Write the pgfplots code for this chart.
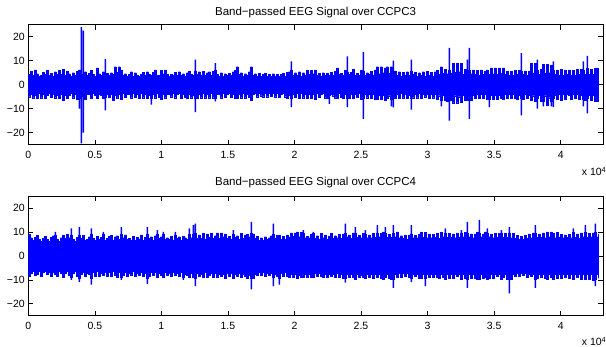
\documentclass[border=0pt]{standalone}
\usepackage{fontspec}
\setmainfont{Liberation Sans}
\usepackage{pgfplots}
\usepackage{pgfplotstable}
\pgfplotsset{compat=1.18}
\definecolor{mblue}{rgb}{0,0,1}

% envelope of the band-passed signal: upper (u) and lower (l) extremes, one row per 2 px column (~150 samples)
\pgfplotstableread[row sep=\\]{
u l\\
4.2 -5.0\\ 5.6 -3.8\\ 3.8 -5.4\\ 6.2 -4.2\\ 4.6 -5.6\\ 3.6 -3.6\\ 4.0 -5.4\\ 5.2 -4.0\\ 4.4 -5.8\\ 6.0 -4.4\\
3.8 -3.6\\ 4.8 -5.2\\ 3.6 -3.8\\ 5.4 -5.4\\ 4.2 -4.2\\ 6.0 -5.8\\ 4.4 -4.0\\ 6.5 -6.5\\ 4.0 -4.4\\ 5.8 -5.8\\
4.6 -4.2\\ 3.6 -3.6\\ 5.0 -5.4\\ 3.8 -3.8\\ 5.6 -6.0\\ 6.2 -5.4\\ 4.4 -4.6\\ 4.0 -4.2\\ 5.4 -6.2\\ 3.8 -3.8\\
4.8 -4.0\\ 6.0 -5.6\\ 4.2 -3.6\\ 3.6 -4.2\\ 7.0 -5.6\\ 4.6 -3.8\\ 3.8 -4.4\\ 5.4 -5.8\\ 4.2 -5.0\\ 4.8 -3.8\\
3.8 -5.2\\ 5.0 -3.8\\ 4.2 -6.5\\ 7.5 -4.2\\ 5.2 -5.4\\ 7.5 -3.8\\ 6.2 -6.0\\ 4.0 -3.6\\ 4.6 -5.2\\ 3.6 -4.0\\
4.2 -3.8\\ 5.4 -5.4\\ 3.6 -3.6\\ 5.0 -5.2\\ 4.0 -4.0\\ 3.6 -5.6\\ 4.4 -3.6\\ 5.2 -5.4\\ 3.8 -3.8\\ 5.4 -5.6\\
4.4 -4.4\\ 3.8 -5.4\\ 5.2 -3.8\\ 6.2 -5.4\\ 4.0 -3.6\\ 3.8 -5.2\\ 6.0 -6.0\\ 4.6 -3.8\\ 6.2 -5.4\\ 4.2 -4.0\\
3.6 -3.8\\ 4.4 -5.0\\ 3.8 -3.6\\ 5.2 -5.4\\ 4.0 -4.0\\ 5.4 -3.6\\ 3.8 -5.6\\ 4.6 -3.8\\ 3.6 -5.2\\ 5.0 -5.6\\
5.6 -4.0\\ 4.2 -5.4\\ 3.8 -4.2\\ 5.8 -5.4\\ 4.2 -5.8\\ 5.4 -3.8\\ 3.8 -5.4\\ 5.6 -3.6\\ 4.0 -5.4\\ 5.0 -4.0\\
5.4 -5.4\\ 3.8 -3.6\\ 5.6 -5.4\\ 6.2 -5.6\\ 4.2 -4.0\\ 3.6 -3.8\\ 5.0 -5.4\\ 3.6 -3.4\\ 4.6 -5.2\\ 4.0 -3.8\\
4.8 -3.6\\ 3.8 -5.2\\ 5.4 -3.8\\ 6.0 -5.6\\ 7.5 -5.8\\ 4.4 -3.8\\ 5.0 -5.4\\ 3.6 -3.6\\ 4.6 -5.4\\ 4.0 -4.0\\
5.4 -5.2\\ 7.5 -6.5\\ 4.0 -4.0\\ 4.6 -3.6\\ 3.6 -5.0\\ 4.8 -3.4\\ 3.4 -4.6\\ 4.2 -5.0\\ 4.8 -3.4\\ 3.6 -5.0\\
4.2 -3.4\\ 3.4 -4.8\\ 4.6 -3.6\\ 3.6 -5.0\\ 4.4 -3.4\\ 3.4 -5.2\\ 4.2 -3.8\\ 4.8 -3.6\\ 3.6 -5.0\\ 5.2 -5.6\\
5.4 -4.2\\ 6.2 -5.4\\ 4.0 -3.8\\ 5.0 -5.2\\ 3.8 -3.6\\ 5.4 -5.6\\ 3.6 -3.6\\ 5.0 -5.4\\ 4.0 -3.8\\ 6.0 -5.6\\
4.4 -4.0\\ 6.0 -5.6\\ 4.6 -3.8\\ 6.2 -6.0\\ 4.0 -3.6\\ 4.8 -5.2\\ 3.6 -4.0\\ 5.0 -3.6\\ 3.8 -5.4\\ 4.8 -5.8\\
3.8 -4.4\\ 5.2 -3.8\\ 4.0 -4.6\\ 5.6 -5.4\\ 7.0 -5.6\\ 4.2 -3.6\\ 4.8 -5.2\\ 3.8 -5.8\\ 6.0 -4.0\\ 5.4 -5.4\\
4.2 -5.8\\ 5.2 -3.8\\ 6.5 -5.6\\ 4.0 -4.0\\ 4.8 -5.2\\ 3.8 -3.6\\ 6.0 -6.0\\ 5.6 -5.4\\ 4.0 -4.0\\ 5.0 -5.4\\
4.2 -3.8\\ 5.6 -5.6\\ 4.0 -4.0\\ 6.2 -6.0\\ 7.5 -6.2\\ 4.6 -4.2\\ 7.5 -6.2\\ 5.0 -4.4\\ 7.0 -6.4\\ 7.5 -5.8\\
4.8 -4.6\\ 7.5 -6.0\\ 5.6 -5.4\\ 5.8 -5.6\\ 4.0 -3.8\\ 5.4 -5.6\\ 3.6 -3.6\\ 5.2 -5.4\\ 3.8 -4.0\\ 5.4 -5.8\\
4.0 -4.2\\ 5.8 -5.6\\ 4.4 -5.4\\ 5.2 -3.8\\ 3.6 -5.4\\ 5.0 -3.6\\ 3.8 -5.6\\ 5.4 -3.8\\ 3.6 -5.0\\ 5.6 -4.0\\
3.8 -5.6\\ 5.2 -3.8\\ 3.6 -5.4\\ 5.4 -3.8\\ 6.0 -6.0\\ 4.4 -4.6\\ 7.5 -6.6\\ 4.8 -4.4\\ 6.4 -6.4\\ 4.6 -6.8\\
6.0 -5.6\\ 4.8 -6.4\\ 9.0 -7.5\\ 5.2 -4.6\\ 9.0 -7.5\\ 5.4 -5.0\\ 9.0 -7.2\\ 4.4 -4.4\\ 6.5 -6.4\\ 5.6 -6.6\\
6.0 -5.4\\ 4.6 -6.4\\ 6.2 -4.2\\ 4.2 -5.8\\ 6.0 -4.0\\ 4.0 -5.8\\ 6.2 -3.8\\ 4.4 -5.6\\ 5.8 -4.0\\ 6.2 -6.2\\
4.2 -6.0\\ 7.0 -4.2\\ 4.6 -6.0\\ 7.0 -4.4\\ 4.4 -6.2\\ 7.0 -4.2\\ 4.8 -5.6\\ 7.0 -6.2\\ 4.2 -4.0\\ 5.6 -5.8\\
3.8 -3.8\\ 5.6 -5.8\\ 3.8 -3.8\\ 6.0 -5.6\\ 4.2 -6.0\\ 6.0 -4.2\\ 5.6 -5.6\\ 4.4 -6.2\\ 5.8 -4.0\\ 4.0 -5.8\\
5.6 -4.2\\ 9.0 -6.5\\ 4.8 -4.6\\ 9.0 -6.8\\ 6.0 -5.6\\ 4.4 -4.4\\ 6.5 -6.8\\ 8.5 -7.0\\ 4.8 -4.6\\ 8.5 -8.5\\
5.0 -5.4\\ 8.0 -7.0\\ 6.0 -5.8\\ 4.2 -4.2\\ 6.2 -6.2\\ 3.8 -4.0\\ 6.4 -6.4\\ 4.0 -4.0\\ 6.0 -6.2\\ 4.2 -4.0\\
6.2 -4.2\\ 4.0 -6.2\\ 6.0 -4.0\\ 3.8 -5.8\\ 6.4 -3.8\\ 4.4 -6.2\\ 6.4 -4.2\\ 6.0 -6.0\\ 4.2 -6.4\\ 6.8 -5.4\\
4.4 -4.4\\ 6.4 -6.4\\ 4.2 -4.2\\ 6.8 -6.8\\ 7.0 -7.0\\ 5.0 -5.0\\
}\topdata

\pgfplotstableread[row sep=\\]{
u l\\
9.0 -8.6\\ 7.6 -7.2\\ 6.4 -6.4\\ 7.8 -8.0\\ 8.6 -7.6\\ 6.8 -6.6\\ 6.0 -8.4\\ 7.4 -7.0\\ 8.2 -6.4\\ 7.0 -7.8\\
6.2 -7.0\\ 7.8 -8.6\\ 8.4 -6.8\\ 8.8 -7.6\\ 7.0 -8.4\\ 6.2 -6.6\\ 7.6 -7.2\\ 8.6 -8.8\\ 7.4 -7.4\\ 9.0 -6.6\\
7.6 -8.0\\ 8.8 -9.0\\ 6.8 -7.2\\ 6.2 -6.4\\ 7.8 -8.4\\ 8.8 -9.2\\ 7.2 -7.6\\ 8.6 -6.8\\ 6.4 -8.6\\ 7.0 -7.2\\
8.0 -7.8\\ 9.0 -9.2\\ 7.4 -7.0\\ 6.4 -8.4\\ 8.2 -6.6\\ 7.0 -8.6\\ 7.8 -7.4\\ 9.0 -8.0\\ 6.6 -6.8\\ 7.2 -8.4\\
8.2 -7.0\\ 8.6 -8.6\\ 6.6 -6.6\\ 8.0 -8.2\\ 8.4 -8.8\\ 7.0 -7.0\\ 9.0 -9.0\\ 7.6 -8.0\\ 8.8 -6.8\\ 6.8 -8.4\\
7.4 -7.2\\ 6.6 -8.2\\ 8.2 -6.6\\ 6.4 -8.6\\ 7.8 -7.4\\ 7.0 -8.0\\ 8.8 -6.8\\ 6.6 -8.6\\ 7.8 -7.2\\ 9.0 -9.2\\
7.2 -8.4\\ 8.0 -7.0\\ 6.6 -8.2\\ 8.4 -6.8\\ 9.2 -8.8\\ 7.2 -7.4\\ 8.0 -8.2\\ 9.0 -8.8\\ 6.8 -6.8\\ 7.6 -8.0\\
6.8 -7.2\\ 8.2 -8.4\\ 6.4 -6.8\\ 8.8 -8.2\\ 7.4 -7.4\\ 8.0 -8.6\\ 6.6 -6.8\\ 8.2 -9.0\\ 7.6 -7.6\\ 7.0 -8.2\\
9.0 -8.8\\ 7.6 -7.2\\ 9.2 -9.0\\ 9.4 -9.2\\ 7.2 -7.4\\ 8.8 -8.6\\ 7.4 -7.6\\ 9.4 -9.0\\ 7.0 -7.0\\ 9.2 -8.8\\
7.8 -8.2\\ 9.4 -7.4\\ 7.2 -9.0\\ 8.4 -7.2\\ 9.6 -8.8\\ 7.4 -7.8\\ 9.6 -8.4\\ 8.0 -7.6\\ 9.2 -9.2\\ 7.2 -7.4\\
8.2 -8.6\\ 7.0 -7.4\\ 9.2 -9.2\\ 7.8 -7.6\\ 8.4 -8.4\\ 6.8 -7.2\\ 9.4 -8.8\\ 7.4 -7.8\\ 8.8 -8.6\\ 9.0 -9.2\\
8.0 -8.2\\ 9.4 -9.2\\ 9.2 -9.4\\ 7.4 -7.6\\ 8.2 -8.2\\ 6.4 -6.8\\ 7.6 -8.0\\ 6.6 -7.0\\ 8.0 -8.4\\ 6.8 -7.2\\
7.6 -8.0\\ 8.4 -7.4\\ 9.0 -9.0\\ 7.2 -7.6\\ 8.6 -8.4\\ 8.8 -9.2\\ 7.0 -7.4\\ 8.2 -8.6\\ 6.8 -7.0\\ 8.8 -8.4\\
7.8 -8.8\\ 9.6 -7.6\\ 8.2 -9.0\\ 9.6 -7.8\\ 10 -9.2\\ 8.0 -8.0\\ 9.8 -9.0\\ 9.4 -8.8\\ 7.6 -7.6\\ 8.2 -9.0\\
7.6 -7.6\\ 9.2 -8.8\\ 9.4 -9.0\\ 7.4 -7.4\\ 8.4 -8.6\\ 7.0 -7.2\\ 9.4 -8.6\\ 7.6 -9.0\\ 8.8 -7.6\\ 7.0 -8.8\\
8.2 -7.8\\ 9.4 -8.6\\ 7.4 -7.6\\ 8.4 -9.0\\ 7.6 -7.4\\ 9.0 -8.8\\ 7.4 -7.8\\ 9.2 -9.4\\ 9.4 -9.2\\ 8.0 -7.8\\
8.8 -9.0\\ 7.4 -7.6\\ 9.6 -8.8\\ 9.4 -9.6\\ 7.8 -7.8\\ 8.8 -9.0\\ 7.6 -8.0\\ 9.4 -8.8\\ 9.0 -9.2\\ 7.6 -7.6\\
8.8 -8.8\\ 7.6 -7.8\\ 9.4 -9.4\\ 7.8 -7.8\\ 9.6 -8.8\\ 8.0 -7.6\\ 9.4 -9.2\\ 10 -9.6\\ 9.4 -9.0\\ 7.8 -7.8\\
9.0 -9.2\\ 7.8 -9.6\\ 9.4 -9.6\\ 8.0 -7.8\\ 10 -8.8\\ 7.6 -7.4\\ 8.4 -8.8\\ 7.2 -7.2\\ 8.6 -8.6\\ 7.0 -7.4\\
8.8 -8.8\\ 9.2 -9.2\\ 7.6 -7.8\\ 8.6 -8.6\\ 7.6 -7.8\\ 9.0 -9.2\\ 10 -9.4\\ 7.8 -7.6\\ 9.8 -9.4\\ 7.6 -7.8\\
9.2 -8.8\\ 7.6 -7.6\\ 9.0 -9.0\\ 7.8 -7.8\\ 9.4 -8.8\\ 7.4 -9.4\\ 9.8 -7.8\\ 8.0 -9.0\\ 9.4 -9.6\\ 7.8 -7.6\\
9.4 -9.2\\ 7.8 -7.8\\ 9.2 -9.4\\ 7.6 -7.6\\ 9.6 -8.6\\ 7.8 -7.8\\ 9.6 -9.6\\ 8.0 -7.8\\ 9.8 -9.4\\ 9.6 -9.6\\
8.0 -7.8\\ 9.2 -9.4\\ 7.6 -7.6\\ 9.2 -9.2\\ 10 -9.6\\ 9.6 -9.8\\ 8.0 -7.8\\ 9.2 -9.4\\ 10 -8.8\\ 9.6 -9.6\\
8.0 -9.2\\ 9.0 -7.6\\ 7.6 -9.4\\ 9.4 -7.8\\ 7.8 -8.6\\ 9.4 -7.6\\ 9.6 -9.6\\ 7.8 -9.0\\ 9.4 -7.8\\ 7.8 -9.8\\
9.6 -9.6\\ 7.6 -9.6\\ 9.4 -7.6\\ 7.2 -8.6\\ 8.6 -7.2\\ 7.0 -8.4\\ 8.2 -7.4\\ 6.8 -8.2\\ 8.6 -7.2\\ 7.4 -8.8\\
9.2 -7.8\\ 7.6 -8.6\\ 9.6 -7.8\\ 9.4 -9.6\\ 7.8 -9.4\\ 9.0 -7.6\\ 7.8 -8.8\\ 9.6 -7.8\\ 7.6 -9.2\\ 10 -9.6\\
8.0 -7.8\\ 10 -9.0\\ 9.4 -9.6\\ 7.6 -7.6\\ 9.8 -9.2\\ 7.8 -7.8\\ 9.0 -9.2\\ 7.6 -7.6\\ 8.8 -9.0\\ 7.8 -7.8\\
9.0 -9.2\\ 7.6 -7.6\\ 9.8 -9.6\\ 7.8 -7.8\\ 9.2 -8.8\\ 7.4 -7.6\\ 9.6 -9.6\\ 8.0 -7.8\\ 9.8 -9.8\\ 7.8 -7.8\\
9.4 -9.6\\ 8.0 -7.8\\ 9.6 -10\\ 9.8 -9.6\\ 8.0 -7.8\\ 9.2 -9.4\\
}\botdata

% isolated large excursions (sample index, value)
\pgfplotstableread[row sep=\\]{
x y\\
3832 -10\\ 3983 24\\ 3983 -24.5\\ 4133 22.5\\ 4133 -20\\ 5786 10.7\\ 5786 -10.7\\ 9243 -8.3\\
12550 10.4\\ 12550 -11.4\\ 14053 9\\ 14053 -7\\ 19764 9.7\\ 19764 -9.3\\ 22620 -8\\ 23973 11.8\\ 23973 -9.3\\
25175 13.7\\ 25175 -14.2\\ 27279 -9\\ 27430 10\\ 27430 -9.5\\ 28782 10.4\\ 28782 -10.4\\ 31037 -9\\
31638 15.3\\ 31638 -15\\ 32991 10.4\\ 33141 15.3\\ 33141 -14.2\\ 34644 -9.3\\ 37049 13.2\\ 37049 -12.8\\
38251 10.4\\ 38251 -10\\ 38702 -9\\ 39303 -9\\ 39454 9.7\\ 39454 -9.3\\ 41708 9.7\\ 41708 -9\\ 42009 12\\ 42009 -12\\
}\topspikes

\pgfplotstableread[row sep=\\]{
x y\\
2029 10\\ 3231 11.5\\ 3231 -10\\ 3832 12\\ 3832 -11\\ 4734 11.5\\ 4734 -12\\ 5636 10\\ 6989 12\\ 6989 -10\\
8943 12\\ 8943 -11.7\\ 9694 10.7\\ 10145 10\\ 11047 10\\ 11648 -10\\ 12099 11.5\\ 12400 12.8\\ 12550 13.5\\ 12550 -12.7\\
15406 10.7\\ 16758 14.2\\ 16758 -14\\ 18412 13.5\\ 18412 -12.7\\ 18862 -12\\ 20666 10.7\\ 21418 10\\
23822 13.5\\ 23822 -11.2\\ 24574 12\\ 25325 10.7\\ 26227 12.8\\ 26828 12\\ 27430 12.8\\ 27430 -13.4\\
28782 12.8\\ 28782 -11\\ 29834 -12.7\\ 31337 11.5\\ 32540 10.7\\ 32991 14.2\\ 32991 -13.4\\ 33893 15\\ 33893 -10\\
34494 11.5\\ 35546 10.7\\ 36147 12\\ 36147 -15.7\\ 38101 12.8\\ 38101 -13.4\\ 40957 11.5\\ 41858 12.8\\ 42610 13.5\\ 42610 -12.7\\
}\botspikes

\pgfplotsset{
  eeg/.style={
    anchor=south west, scale only axis, width=574.7pt,
    xmin=0, xmax=43180, ymin=-25, ymax=25,
    xtick={0,5000,10000,15000,20000,25000,30000,35000,40000},
    xticklabels={0,0.5,1,1.5,2,2.5,3,3.5,4},
    ytick={-20,-10,0,10,20},
    yticklabels={−20,−10,0,10,20},
    scaled x ticks=false,
    xtick pos=both, ytick pos=both,
    xticklabel pos=lower, yticklabel pos=left,
    tick align=inside, major tick length=5pt,
    tick style={black, line width=0.5pt},
    axis line style={black, line width=0.8pt},
    ticklabel style={font=\fontsize{10.5}{12}\selectfont},
    xticklabel style={yshift=-3pt},
    /pgf/number format/assume math mode=true,
  },
  sig/.style={color=mblue, draw=mblue, fill=mblue, line width=0.3pt, const plot},
  spk/.style={ybar, bar width=1.4pt, bar shift=0pt, fill=mblue, draw=none, mark=none},
  mid/.style={color=mblue, draw=mblue, line width=1.5pt},
}

\begin{document}
\begin{tikzpicture}
\useasboundingbox (0pt,0pt) rectangle (606pt,347pt);
\begin{axis}[eeg, at={(28.3pt,202.3pt)}, height=120pt]
  \addplot[sig] table[x expr=\coordindex*150.3, y=u]{\topdata} \closedcycle;
  \addplot[sig] table[x expr=\coordindex*150.3, y=l]{\topdata} \closedcycle;
  \addplot[mid] coordinates {(0,0) (42900,0)};
  \addplot[spk] table[x=x, y=y]{\topspikes};
\end{axis}
\begin{axis}[eeg, at={(28.3pt,31.3pt)}, height=119.7pt]
  \addplot[sig] table[x expr=\coordindex*150.3, y=u]{\botdata} \closedcycle;
  \addplot[sig] table[x expr=\coordindex*150.3, y=l]{\botdata} \closedcycle;
  \addplot[mid] coordinates {(0,0) (42900,0)};
  \addplot[spk] table[x=x, y=y]{\botspikes};
\end{axis}
\node[anchor=base, font=\fontsize{11.5}{13}\selectfont, inner sep=0pt] at (315.6pt,331.3pt) {Band−passed EEG Signal over CCPC3};
\node[anchor=base, font=\fontsize{11.5}{13}\selectfont, inner sep=0pt] at (315.6pt,161.3pt) {Band−passed EEG Signal over CCPC4};
\node[anchor=base west, font=\fontsize{10.5}{12}\selectfont, inner sep=0pt] at (581.7pt,171.0pt) {x 10\textsuperscript{4}};
\node[anchor=base west, font=\fontsize{10.5}{12}\selectfont, inner sep=0pt] at (581.7pt,1.0pt) {x 10\textsuperscript{4}};
\end{tikzpicture}
\end{document}
